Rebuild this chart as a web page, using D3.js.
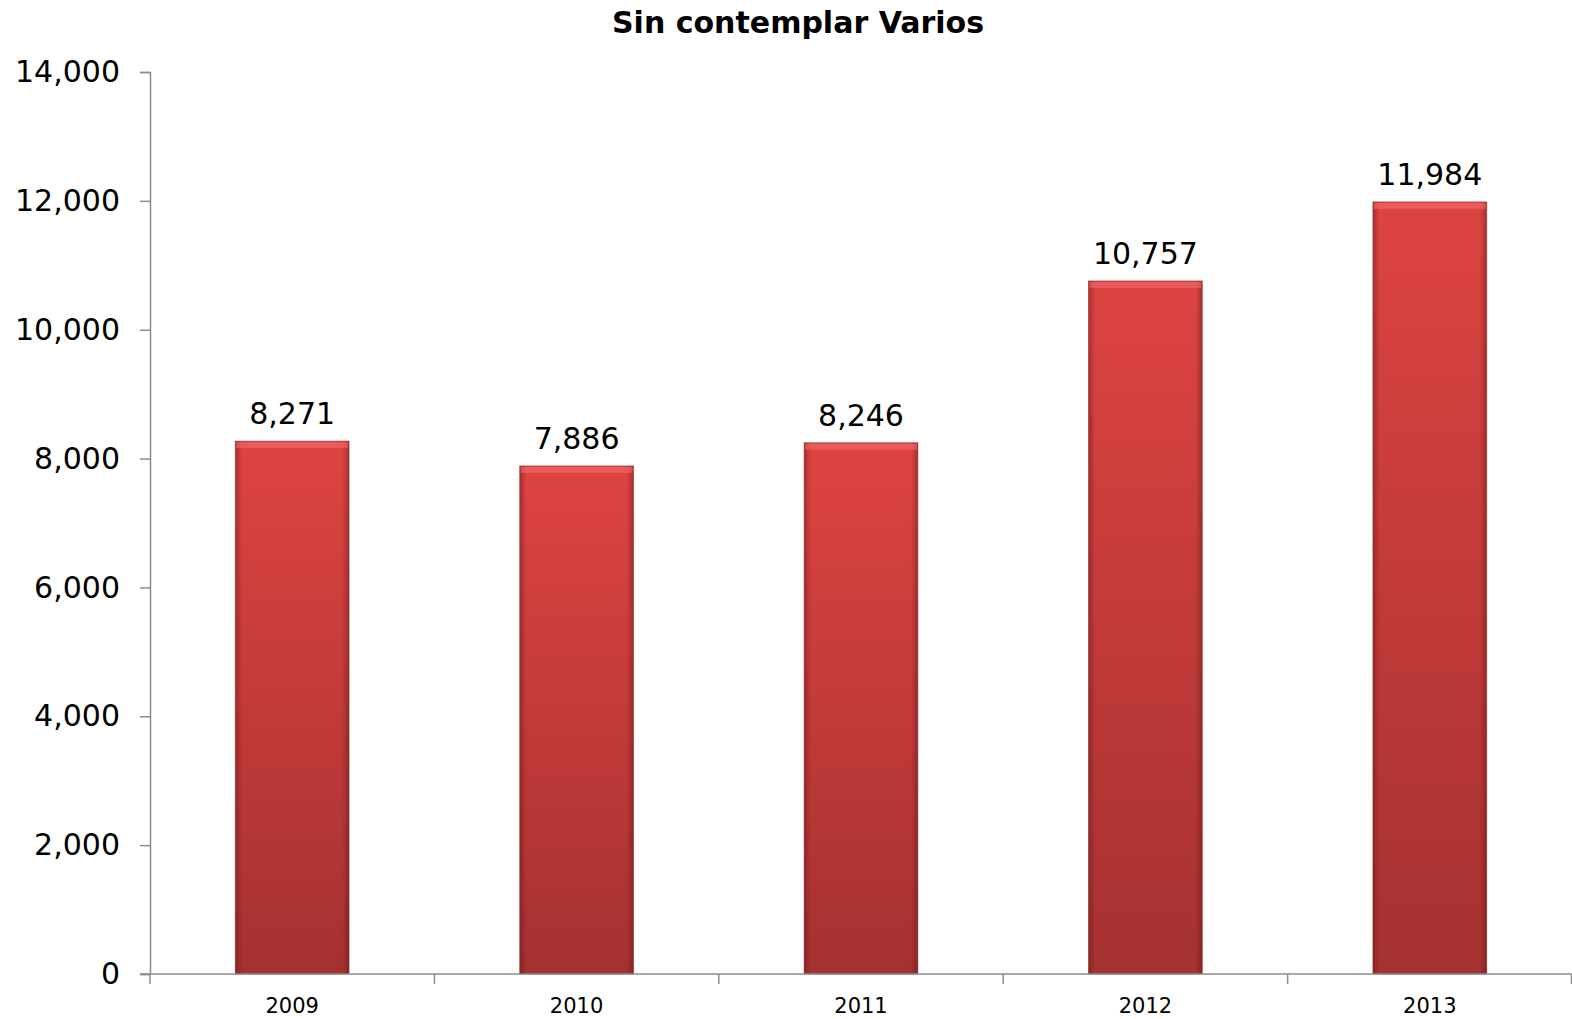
<!DOCTYPE html>
<html>
<head>
<meta charset="utf-8">
<script src="https://cdn.jsdelivr.net/npm/d3@7.9.0/dist/d3.min.js"></script>
<style>
  body { margin: 0; background: #fff; }
  svg { display: block; font-family: Verdana, "DejaVu Sans", sans-serif; }
</style>
</head>
<body>
<div id="chart"></div>
<script>
const years = ['2009', '2010', '2011', '2012', '2013'];
const values = [8271, 7886, 8246, 10757, 11984];
const yTicks = [0, 2000, 4000, 6000, 8000, 10000, 12000, 14000];
const title = 'Sin contemplar Varios';

const width = 1572;
const height = 1019;
const margin = { top: 72, right: 0, bottom: 45, left: 150 };
const fontFamily = 'Verdana, "DejaVu Sans", sans-serif';

const svg = d3.select('#chart')
    .append('svg')
    .attr('width', width)
    .attr('height', height);

const defs = svg.append('defs');

// vertical shading of the bars: lighter red at the top, darker at the base
const grad = defs.append('linearGradient')
    .attr('id', 'barFill')
    .attr('x1', 0).attr('y1', 0).attr('x2', 0).attr('y2', 1);
grad.append('stop').attr('offset', '0%').attr('stop-color', '#dd4442');
grad.append('stop').attr('offset', '100%').attr('stop-color', '#a53131');

// darker side edges for the bevel look
const sideGrad = defs.append('linearGradient')
    .attr('id', 'barSides')
    .attr('x1', 0).attr('y1', 0).attr('x2', 1).attr('y2', 0);
sideGrad.append('stop').attr('offset', '0%').attr('stop-color', '#5a1010').attr('stop-opacity', 0.4);
sideGrad.append('stop').attr('offset', '6%').attr('stop-color', '#5a1010').attr('stop-opacity', 0);
sideGrad.append('stop').attr('offset', '94%').attr('stop-color', '#5a1010').attr('stop-opacity', 0);
sideGrad.append('stop').attr('offset', '100%').attr('stop-color', '#5a1010').attr('stop-opacity', 0.4);

const x = d3.scaleBand()
    .domain(years)
    .range([margin.left, width - margin.right])
    .paddingInner(0.6)
    .paddingOuter(0.3);

const y = d3.scaleLinear()
    .domain([0, 14000])
    .range([height - margin.bottom, margin.top]);

// title
svg.append('text')
    .attr('x', 798)
    .attr('y', 33)
    .attr('text-anchor', 'middle')
    .style('font-size', '30px')
    .style('font-weight', 'bold')
    .text(title);

// bars
const bars = svg.append('g').selectAll('g')
    .data(years.map((d, i) => ({ year: d, value: values[i] })))
    .join('g');

bars.append('rect')
    .attr('x', d => x(d.year))
    .attr('y', d => y(d.value))
    .attr('width', x.bandwidth())
    .attr('height', d => y(0) - y(d.value))
    .attr('fill', 'url(#barFill)')
    .attr('stroke', '#8e2a2a')
    .attr('stroke-opacity', 0.5)
    .attr('stroke-width', 1);

bars.append('rect')
    .attr('x', d => x(d.year))
    .attr('y', d => y(d.value))
    .attr('width', x.bandwidth())
    .attr('height', d => y(0) - y(d.value))
    .attr('fill', 'url(#barSides)');

// top bevel highlight
bars.append('rect')
    .attr('x', d => x(d.year) + 1)
    .attr('y', d => y(d.value) + 1)
    .attr('width', x.bandwidth() - 2)
    .attr('height', 6)
    .attr('fill', '#f07070')
    .attr('opacity', 0.55);

// value labels
bars.append('text')
    .attr('x', d => x(d.year) + x.bandwidth() / 2)
    .attr('y', d => y(d.value) - 17)
    .attr('text-anchor', 'middle')
    .style('font-size', '30px')
    .attr('fill', '#000')
    .text(d => d3.format(',')(d.value));

// y axis
const yAxis = svg.append('g')
    .attr('transform', `translate(${margin.left},0)`)
    .call(d3.axisLeft(y).tickValues(yTicks).tickFormat(d3.format(',')).tickSize(10).tickPadding(20))
    .attr('font-family', fontFamily)
    .attr('font-size', 30);
yAxis.selectAll('line, path').attr('stroke', '#8c8c8c').attr('stroke-width', 1.5);
yAxis.selectAll('text').attr('fill', '#000');

// x axis with ticks at the band boundaries
const boundaries = years.map(d => x(d) - x.step() * x.paddingInner() / 2).concat([width - margin.right - 0.5]);
const xAxisG = svg.append('g')
    .attr('transform', `translate(0,${y(0)})`);
xAxisG.append('line')
    .attr('x1', margin.left - 10)
    .attr('x2', width)
    .attr('stroke', '#8c8c8c')
    .attr('stroke-width', 1.5);
xAxisG.selectAll('.tick')
    .data(boundaries)
    .join('line')
    .attr('class', 'tick')
    .attr('x1', d => d).attr('x2', d => d)
    .attr('y1', 0).attr('y2', 10)
    .attr('stroke', '#8c8c8c')
    .attr('stroke-width', 1.5);
xAxisG.selectAll('.label')
    .data(years)
    .join('text')
    .attr('class', 'label')
    .attr('x', d => x(d) + x.bandwidth() / 2)
    .attr('y', 39)
    .attr('text-anchor', 'middle')
    .style('font-size', '21px')
    .attr('fill', '#000')
    .text(d => d);
</script>
</body>
</html>
